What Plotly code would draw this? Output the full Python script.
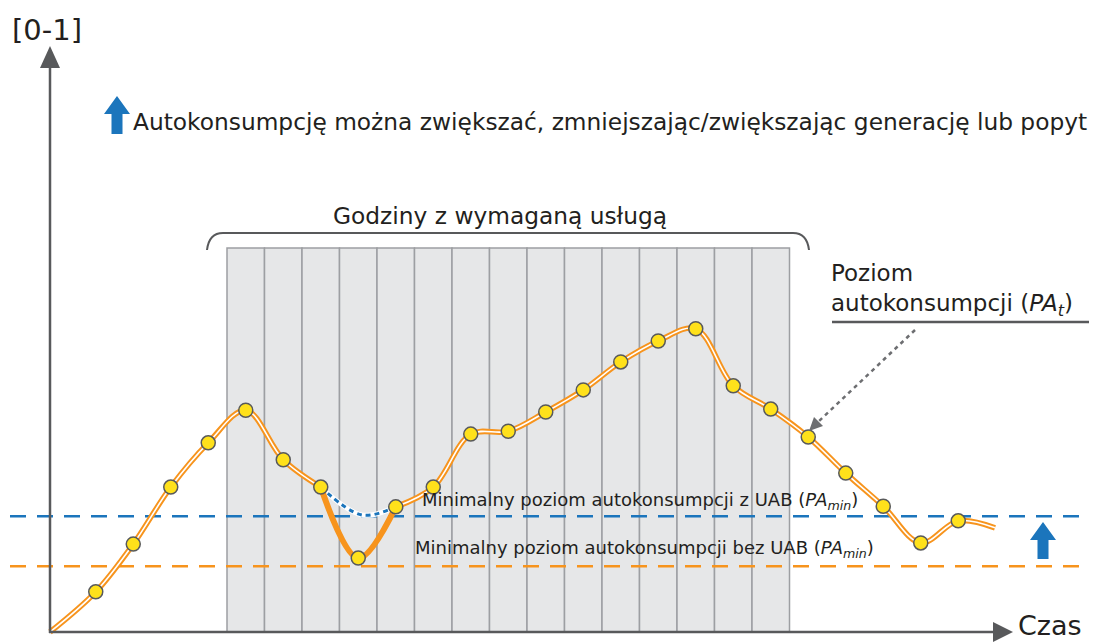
import plotly.graph_objects as go

# ---------------- data ----------------
hours = [0.28, 1.5, 2.5, 3.5, 4.5, 5.5, 6.5, 7.5, 8.5, 9.5, 10.5, 11.5, 12.5,
         13.5, 14.5, 15.5, 16.5, 17.5, 18.5, 19.5, 20.5, 21.5, 22.5, 23.5, 24.5, 25.48]
pa_level = [0.0, 0.069, 0.151, 0.249, 0.325, 0.381, 0.296, 0.249, 0.127, 0.215,
            0.249, 0.340, 0.345, 0.378, 0.416, 0.464, 0.500, 0.521, 0.423, 0.383,
            0.335, 0.273, 0.216, 0.153, 0.191, 0.179]
alt_hours = [7.5, 8.6, 9.5]
alt_level = [0.249, 0.201, 0.215]
pa_min_uab = 0.199
pa_min_no_uab = 0.113
service_start, service_end = 5, 20
service_top = 0.66

ORANGE = "#F7941D"
BLUE = "#1B75BC"
GRAY = "#58595B"
YELLOW = "#FFE11B"
TXT = "#231F20"
FONT = "DejaVu Sans"

PAGE_OFF = 8  # default page body margin


# pixel -> data helpers for layout decorations
def X(px):
    return (px - 39.5) / 37.5


def Y(py):
    return (632 - py) / 582


def path(pts, close=True):
    s = "M " + " L ".join(f"{X(a):.4f},{Y(b):.4f}" for a, b in pts)
    return s + (" Z" if close else "")


fig = go.Figure()
shapes = []

# service hours columns
for h in range(service_start, service_end):
    shapes.append(dict(type="rect", xref="x", yref="y", x0=h, x1=h + 1, y0=0, y1=service_top,
                       fillcolor="#E6E7E8", line=dict(color="#9D9FA2", width=1.5), layer="below"))

# bracket
shapes.append(dict(type="path", xref="x", yref="y",
                   path=(f"M {X(207)},{Y(250)} Q {X(209)},{Y(233)} {X(223)},{Y(233)} "
                         f"L {X(793)},{Y(233)} Q {X(807)},{Y(233)} {X(809)},{Y(250)}"),
                   line=dict(color=GRAY, width=2)))

# axes
shapes.append(dict(type="line", xref="x", yref="y", x0=X(50), x1=X(50), y0=Y(633), y1=Y(62),
                   line=dict(color=GRAY, width=2.5)))
shapes.append(dict(type="path", xref="x", yref="y", path=path([(50, 46), (40, 68), (60, 68)]),
                   fillcolor=GRAY, line=dict(width=0)))
shapes.append(dict(type="line", xref="x", yref="y", x0=X(49), x1=X(996), y0=Y(632), y1=Y(632),
                   line=dict(color=GRAY, width=2.5)))
shapes.append(dict(type="path", xref="x", yref="y", path=path([(1013, 632), (993, 622), (993, 642)]),
                   fillcolor=GRAY, line=dict(width=0)))


# blue arrows
def up_arrow(cx, tip, hb, bottom):
    return path([(cx, tip), (cx + 13, hb), (cx + 5.5, hb), (cx + 5.5, bottom),
                 (cx - 5.5, bottom), (cx - 5.5, hb), (cx - 13, hb)])


shapes.append(dict(type="path", xref="x", yref="y", path=up_arrow(117, 96, 114, 134),
                   fillcolor=BLUE, line=dict(width=0)))
shapes.append(dict(type="path", xref="x", yref="y", path=up_arrow(1043, 522, 540, 559),
                   fillcolor=BLUE, line=dict(width=0)))

# label underline and pointer
shapes.append(dict(type="line", xref="x", yref="y", x0=X(832), x1=X(1097), y0=Y(322), y1=Y(322),
                   line=dict(color=GRAY, width=2.5)))
shapes.append(dict(type="line", xref="x", yref="y", x0=X(915), x1=X(818), y0=Y(330), y1=Y(422),
                   line=dict(color="#6D6E71", width=2.5, dash="4px,4px")))
shapes.append(dict(type="path", xref="x", yref="y",
                   path=path([(809, 431), (823, 426), (814, 417)]),
                   fillcolor="#6D6E71", line=dict(width=0)))

fig.update_layout(shapes=shapes)

# horizontal minimum levels
for lvl, col in [(pa_min_uab, BLUE), (pa_min_no_uab, ORANGE)]:
    fig.add_trace(go.Scatter(x=[X(10), X(1092)], y=[lvl, lvl], mode="lines",
                             line=dict(color=col, width=2.5, dash="16px,11px"),
                             hoverinfo="skip", showlegend=False))

segA = slice(0, 8)
segB = slice(7, 10)
segC = slice(9, len(hours))

# alternative (with UAB) path: dotted
fig.add_trace(go.Scatter(x=alt_hours, y=alt_level, mode="lines", line_shape="spline",
                         line=dict(color="white", width=5), hoverinfo="skip", showlegend=False))
fig.add_trace(go.Scatter(x=alt_hours, y=alt_level, mode="lines", line_shape="spline",
                         line=dict(color=BLUE, width=3, dash="5px,4px"), hoverinfo="skip",
                         showlegend=False))

# dip segment
fig.add_trace(go.Scatter(x=hours[segB], y=pa_level[segB], mode="lines", line_shape="spline",
                         line=dict(color=ORANGE, width=6), hoverinfo="skip", showlegend=False))

for seg in (segA, segC):
    fig.add_trace(go.Scatter(x=hours[seg], y=pa_level[seg], mode="lines", line_shape="spline",
                             line=dict(color=ORANGE, width=5.5), hoverinfo="skip", showlegend=False))
    fig.add_trace(go.Scatter(x=hours[seg], y=pa_level[seg], mode="lines", line_shape="spline",
                             line=dict(color="white", width=1.6), hoverinfo="skip", showlegend=False))

fig.add_trace(go.Scatter(x=hours[1:-1], y=pa_level[1:-1], mode="markers",
                         marker=dict(color=YELLOW, size=14, line=dict(color=GRAY, width=1.5)),
                         showlegend=False))


def ann(text, px, py, size, xanchor="left", align="left", yanchor="middle"):
    return dict(text=text, x=X(px), y=Y(py), xref="x", yref="y", showarrow=False,
                xanchor=xanchor, yanchor=yanchor, align=align,
                font=dict(family=FONT, size=size, color=TXT))


fig.update_layout(annotations=[
    ann("[0-1]", 10, 30, 29),
    ann("Autokonsumpcję można zwiększać, zmniejszając/zwiększając generację lub popyt", 131, 121, 23.3),
    ann("Godziny z wymaganą usługą", 500, 215, 23.3, xanchor="center"),
    ann("Poziom<br>autokonsumpcji (<i>PA</i><sub><i>t</i></sub>)", 829, 290, 23),
    ann("Minimalny poziom autokonsumpcji z UAB (<i>PA</i><sub><i>min</i></sub>)", 420, 501, 18),
    ann("Minimalny poziom autokonsumpcji bez UAB (<i>PA</i><sub><i>min</i></sub>)", 413, 549, 18),
    ann("Czas", 1016, 643, 27, yanchor="bottom"),
])

fig.update_layout(
    width=1097 - PAGE_OFF, height=643 - PAGE_OFF, margin=dict(l=0, r=0, t=0, b=0),
    paper_bgcolor="white", plot_bgcolor="white",
    xaxis=dict(range=[X(PAGE_OFF), X(1097)], visible=False, fixedrange=True),
    yaxis=dict(range=[Y(643), Y(PAGE_OFF)], visible=False, fixedrange=True),
    showlegend=False,
)

fig.write_html("out.html")
